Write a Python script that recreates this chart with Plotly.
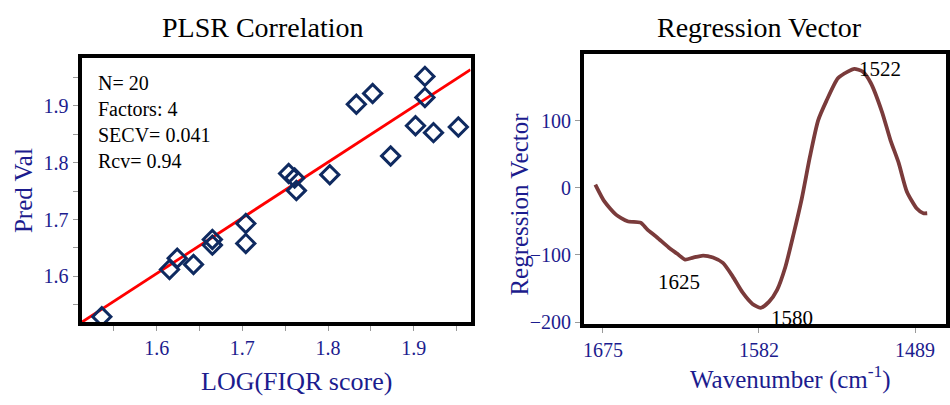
import plotly.graph_objects as go

# ---------------- data ----------------
# PLSR correlation: measured LOG(FIQR score) vs predicted value
log_fiqr = [1.536, 1.615, 1.624, 1.643, 1.665, 1.665, 1.704, 1.704, 1.754, 1.761,
            1.763, 1.802, 1.833, 1.852, 1.873, 1.902, 1.913, 1.913, 1.923, 1.952]
pred_val = [1.529, 1.612, 1.632, 1.621, 1.665, 1.655, 1.693, 1.658, 1.781, 1.773,
            1.751, 1.779, 1.903, 1.922, 1.812, 1.865, 1.952, 1.915, 1.853, 1.863]
fit_slope = 0.98
fit_intercept = 0.037
stats_lines = ["N= 20", "Factors: 4", "SECV= 0.041", "Rcv= 0.94"]

# left axis ticks (major labelled, minor unlabelled)
x_ticks_left = [1.55, 1.6, 1.65, 1.7, 1.75, 1.8, 1.85, 1.9, 1.95]
x_ticklabels_left = ["", "1.6", "", "1.7", "", "1.8", "", "1.9", ""]
y_ticks_left = [1.55, 1.6, 1.65, 1.7, 1.75, 1.8, 1.85, 1.9, 1.95]
y_ticklabels_left = ["", "1.6", "", "1.7", "", "1.8", "", "1.9", ""]

# Regression vector
wavenumber = [1679.5, 1674.0, 1667.2, 1660.3, 1652.5, 1648.6, 1642.7, 1635.8, 1630.9, 1626.0,
              1621.2, 1615.3, 1609.4, 1603.5, 1597.7, 1591.8, 1585.9, 1581.0, 1576.1, 1571.2,
              1566.3, 1561.4, 1556.5, 1551.6, 1546.8, 1541.9, 1535.0, 1529.1, 1525.2, 1520.3,
              1515.4, 1508.6, 1503.7, 1498.8, 1493.9, 1488.0, 1484.1, 1481.8]
reg_vector = [4.8, -20.8, -40, -50, -52, -62, -74, -89, -98, -107,
              -104, -101, -104, -112, -132, -156, -173, -179, -170, -152,
              -118, -69, -16, 47, 100, 129, 163, 173, 177, 173,
              156, 112, 71, 37, -6, -31, -38, -38]
peak_labels = ["1625", "1580", "1522"]
peak_x = [1626.0, 1581.0, 1525.2]
peak_y = [-107, -179, 177]

x_ticks_right = [1675, 1582, 1489]
y_ticks_right = [-200, -100, 0, 100]

# ---------------- styles ----------------
W, H = 950, 405
FONT = "Liberation Serif"
BLUE = "#1c1c8e"
NAVY = "#0f2a60"
BROWN = "#7a3b3b"
TICKC = "#9a9a9a"

def px_x(p):
    return p / W

def px_y(p):
    return 1 - p / H

fig = go.Figure()

# left: scatter + fit line
x_rng_left = [1.5124, 1.9662]
fig.add_trace(go.Scatter(
    x=x_rng_left, y=[fit_slope * v + fit_intercept for v in x_rng_left],
    mode="lines", line=dict(color="#ff0000", width=2.8),
    xaxis="x", yaxis="y", showlegend=False, hoverinfo="skip"))
fig.add_trace(go.Scatter(
    x=log_fiqr, y=pred_val, mode="markers",
    marker=dict(symbol="diamond-open", size=14, color=NAVY, line=dict(width=3, color=NAVY)),
    xaxis="x", yaxis="y", showlegend=False))

# right: regression vector
fig.add_trace(go.Scatter(
    x=wavenumber, y=reg_vector, mode="lines",
    line=dict(color=BROWN, width=3.8, shape="spline", smoothing=0.6),
    xaxis="x2", yaxis="y2", showlegend=False))

axis_common = dict(showline=True, linecolor="black", linewidth=4, mirror=True,
                   showgrid=False, zeroline=False, ticks="outside", ticklen=5,
                   tickwidth=1.2, tickcolor=TICKC,
                   tickfont=dict(family=FONT, size=20, color=BLUE))

fig.update_layout(
    width=W, height=H,
    margin=dict(l=0, r=0, t=0, b=0),
    paper_bgcolor="white", plot_bgcolor="white",
    font=dict(family=FONT),
    xaxis=dict(domain=[px_x(81), px_x(472)], range=x_rng_left, anchor="y",
               tickvals=x_ticks_left, ticktext=x_ticklabels_left, **axis_common),
    yaxis=dict(domain=[px_y(329.3), px_y(59.3)], range=[1.5197, 1.9844], anchor="x",
               tickvals=y_ticks_left, ticktext=y_ticklabels_left, **axis_common),
    xaxis2=dict(domain=[px_x(586), 1.0], range=[1686.3, 1470.6], anchor="y2",
                tickvals=x_ticks_right, **axis_common),
    yaxis2=dict(domain=[px_y(331), px_y(55.7)], range=[-202.4, 198.5], anchor="x2",
                tickvals=y_ticks_right, **axis_common),
)

def paper_text(text, xp, yp, size, color, angle=0):
    return dict(text=text, x=px_x(xp), y=px_y(yp), xref="paper", yref="paper",
                xanchor="center", yanchor="middle", showarrow=False, textangle=angle,
                font=dict(family=FONT, size=size, color=color))

annotations = [
    paper_text("PLSR Correlation", 263, 28, 28, "black"),
    paper_text("Regression Vector", 763, 28, 28, "black"),
    paper_text("LOG(FIQR score)", 297, 390, 26, BLUE),
    paper_text("Wavenumber (cm<sup>-1</sup>)", 794, 386, 25, BLUE),
    paper_text("Pred Val", 22, 194.5, 25, BLUE, -90),
    paper_text("Regression Vector", 521, 209, 25, BLUE, -90),
    dict(text="<br>".join(stats_lines), x=px_x(95), y=px_y(72), xref="paper", yref="paper",
         xanchor="left", yanchor="top", align="left", showarrow=False,
         font=dict(family=FONT, size=20, color="black")),
]
# peak labels on the regression vector
placements = [("center", "top", -6, -8), ("left", "top", 8, 4), ("left", "middle", 3, 0)]
for lab, xv, yv, (xa, ya, dx, dy) in zip(peak_labels, peak_x, peak_y, placements):
    annotations.append(dict(text=lab, x=xv, y=yv, xref="x2", yref="y2",
                            xanchor=xa, yanchor=ya, xshift=dx, yshift=dy,
                            showarrow=False, font=dict(family=FONT, size=21, color="black")))
fig.update_layout(annotations=annotations)

fig.write_html("out.html")
